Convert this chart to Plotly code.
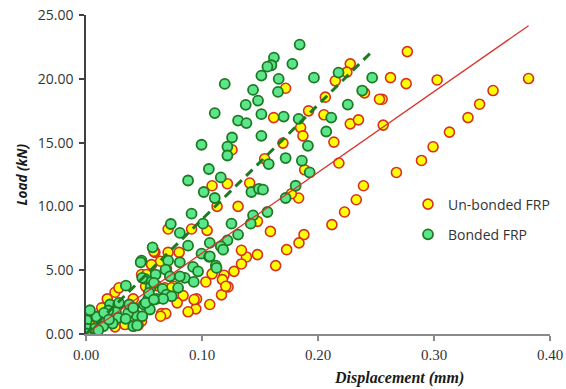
import plotly.graph_objects as go

# Un-bonded FRP (displacement mm, load kN)
unbonded_x = [0.277, 0.2625, 0.276, 0.3027, 0.3815, 0.2553, 0.2562, 0.3509, 0.3393, 0.3293,
              0.3133, 0.2992, 0.2892, 0.2676, 0.2392, 0.2401, 0.2330, 0.2229, 0.2120, 0.1879,
              0.1836, 0.1730, 0.1635, 0.1590, 0.1478, 0.1478, 0.1833, 0.1770, 0.1383, 0.1340,
              0.1340, 0.1311, 0.1276, 0.1225, 0.1190, 0.1176, 0.1168, 0.1087, 0.1033, 0.1067,
              0.0953, 0.0947, 0.0880, 0.0837, 0.1044, 0.0910, 0.1130, 0.1087, 0.1219, 0.1411,
              0.2278, 0.2249, 0.2149, 0.1721, 0.2063, 0.1919, 0.2051, 0.1618, 0.2278, 0.2349,
              0.2530, 0.1850, 0.1870, 0.1698, 0.2137, 0.1259, 0.1540, 0.2180, 0.1885, 0.0708,
              0.0594, 0.0565, 0.0708, 0.0803, 0.0479, 0.0522, 0.0694, 0.0932, 0.0680, 0.0757,
              0.0786, 0.0651, 0.0688, 0.0250, 0.0284, 0.0183, 0.0135, 0.0221, 0.0336, 0.0250,
              0.0407, 0.0430, 0.0479, 0.0450, 0.0034, 0.0086, 0.0114, 0.0407, 0.0536, 0.0608,
              0.1205, 0.0643, 0.0738, 0.0585, 0.0643, 0.0514, 0.0407]
unbonded_y = [22.13, 20.09, 19.62, 19.91, 20.02, 18.40, 16.37, 19.08, 18.01, 16.96,
              15.82, 14.67, 13.60, 12.66, 11.62, 18.90, 10.52, 9.56, 8.57, 7.79,
              7.14, 6.61, 5.36, 8.04, 6.22, 8.83, 10.66, 10.99, 6.04, 5.49,
              6.56, 10.00, 4.91, 3.69, 4.60, 4.26, 3.07, 4.71, 4.08, 2.31,
              2.75, 1.97, 1.74, 3.01, 8.12, 8.23, 10.00, 11.62, 11.78, 11.83,
              21.17, 20.52, 19.84, 19.26, 18.56, 17.49, 17.18, 16.96, 16.47, 16.78,
              18.40, 16.18, 15.53, 14.96, 15.04, 14.44, 13.73, 13.40, 12.87, 8.23,
              6.40, 5.44, 6.40, 6.40, 4.66, 4.66, 5.10, 2.70, 3.62, 3.74,
              2.44, 1.60, 1.60, 3.27, 3.62, 2.75, 2.05, 1.53, 0.74, 0.56,
              2.13, 1.13, 1.00, 0.69, 0.69, 0.35, 0.49, 2.75, 3.48, 3.79,
              3.74, 1.39, 3.62, 6.48, 5.70, 3.74, 1.39]

# Bonded FRP (displacement mm, load kN)
bonded_x = [0.1842, 0.1620, 0.1598, 0.1564, 0.1779, 0.1512, 0.1196, 0.1661, 0.1965, 0.2177,
            0.2467, 0.2381, 0.1440, 0.1655, 0.1483, 0.1377, 0.1110, 0.1512, 0.1704, 0.1311,
            0.1383, 0.1833, 0.2114, 0.2257, 0.2071, 0.1512, 0.1259, 0.1219, 0.1219, 0.0996,
            0.1913, 0.1721, 0.1861, 0.1928, 0.1575, 0.1059, 0.1162, 0.0880, 0.1015, 0.1426,
            0.1491, 0.1807, 0.1110, 0.1721, 0.1564, 0.1440, 0.1420, 0.1254, 0.1311, 0.1219,
            0.1162, 0.1182, 0.1067, 0.1009, 0.0910, 0.0809, 0.0880, 0.0996, 0.1061, 0.0923,
            0.0966, 0.1119, 0.1125, 0.0852, 0.0929, 0.1526, 0.0731, 0.0574, 0.0479, 0.0708,
            0.0809, 0.0686, 0.0723, 0.0809, 0.0508, 0.0565, 0.0557, 0.0344, 0.0660, 0.0794,
            0.0694, 0.0738, 0.0536, 0.0608, 0.0665, 0.0499, 0.0551, 0.0436, 0.0364, 0.0407,
            0.0207, 0.0278, 0.0373, 0.0258, 0.0278, 0.0230, 0.0192, 0.0092, 0.0034, 0.0006,
            0.0011, 0.0000, 0.0149, 0.0077, 0.0106, 0.0600, 0.0471, 0.0485, 0.0542, 0.0585,
            0.0514, 0.0585, 0.0485, 0.0441, 0.0342, 0.0155, 0.0284, 0.0198, 0.0407, 0.1067]
bonded_y = [22.68, 21.66, 21.06, 20.95, 21.17, 20.25, 19.60, 19.99, 20.09, 20.49,
            20.09, 19.08, 19.13, 18.97, 18.29, 17.96, 17.31, 17.23, 17.04, 16.73,
            16.53, 16.86, 16.96, 17.98, 15.87, 15.53, 15.40, 14.69, 13.99, 14.83,
            14.75, 13.79, 13.58, 12.66, 13.32, 12.93, 12.27, 12.03, 11.13, 11.13,
            11.38, 11.62, 10.66, 10.66, 9.56, 9.30, 8.65, 8.65, 7.79, 7.34,
            6.87, 6.61, 7.14, 8.65, 9.43, 7.92, 6.92, 6.30, 6.04, 5.26,
            4.91, 5.36, 5.18, 4.40, 4.08, 11.31, 8.62, 6.79, 5.75, 5.75,
            5.62, 5.05, 4.52, 4.52, 4.32, 4.11, 3.66, 3.79, 3.54, 3.62,
            3.09, 2.96, 2.75, 2.75, 2.75, 2.31, 1.92, 1.45, 1.66, 0.61,
            2.31, 2.31, 2.31, 1.71, 1.27, 0.82, 1.84, 1.35, 1.86, 1.06,
            0.41, 0.04, 0.61, 0.43, 0.30, 4.66, 5.62, 4.40, 3.22, 4.01,
            2.44, 2.70, 1.39, 0.67, 1.19, 1.66, 2.44, 1.13, 2.05, 6.09]

# Linear trend lines
unbonded_trend_x = [0.0, 0.3815]
unbonded_trend_y = [0.0, 24.16]
bonded_trend_x = [0.0, 0.245]
bonded_trend_y = [0.0, 22.0]

x_ticks = [0.0, 0.1, 0.2, 0.3, 0.4]
y_ticks = [0, 5, 10, 15, 20, 25]

YELLOW = "#FFFF00"
RED = "#D7301F"
GREEN_FILL = "#5CE68C"
GREEN_EDGE = "#1E7A22"

fig = go.Figure()
fig.add_trace(go.Scatter(
    x=unbonded_x, y=unbonded_y, mode="markers", name="Un-bonded FRP",
    legendgroup="a",
    marker=dict(size=10, color=YELLOW, line=dict(color=RED, width=1.6)),
))
fig.add_trace(go.Scatter(
    x=bonded_x, y=bonded_y, mode="markers", name="Bonded FRP",
    legendgroup="b",
    marker=dict(size=10, color=GREEN_FILL, line=dict(color=GREEN_EDGE, width=1.8)),
))
fig.add_trace(go.Scatter(
    x=unbonded_trend_x, y=unbonded_trend_y, mode="lines", showlegend=False,
    line=dict(color="#D9342B", width=1.3),
))
fig.add_trace(go.Scatter(
    x=bonded_trend_x, y=bonded_trend_y, mode="lines", showlegend=False,
    line=dict(color="#1E7A22", width=3, dash="9px,6px"),
))

fig.update_layout(
    width=566, height=389,
    margin=dict(l=86, r=15.7, t=15, b=54.5, autoexpand=False),
    paper_bgcolor="white", plot_bgcolor="white",
    showlegend=True,
    legend=dict(
        x=0.694, y=0.456, xanchor="left", yanchor="top",
        font=dict(family="Open Sans", size=14, color="#333333"),
        bgcolor="rgba(0,0,0,0)", tracegroupgap=9, itemwidth=30,
    ),
    xaxis=dict(
        range=[0, 0.4], tickvals=x_ticks, tickformat=".2f",
        showgrid=False, zeroline=False, showline=True,
        linecolor="#8A8A8A", linewidth=2,
        ticks="outside", ticklen=5, tickcolor="#8A8A8A", tickwidth=1.5,
        tickfont=dict(family="Liberation Serif", size=15, color="#333333"),
        ticklabelstandoff=1,
    ),
    yaxis=dict(
        range=[0, 25], tickvals=y_ticks, tickformat=".2f",
        showgrid=False, zeroline=False, showline=True,
        linecolor="#404040", linewidth=1.5,
        ticks="outside", ticklen=5, tickcolor="#404040", tickwidth=1.5,
        tickfont=dict(family="Open Sans", size=14, color="#333333"),
        ticklabelstandoff=3,
    ),
    annotations=[
        dict(text="<b><i>Displacement (mm)</i></b>", xref="paper", yref="paper",
             x=0.674, y=-0.139, xanchor="center", yanchor="middle", showarrow=False,
             font=dict(family="Liberation Serif", size=16, color="#1a1a1a")),
        dict(text="<b><i>Load (kN)</i></b>", xref="paper", yref="paper",
             x=-0.138, y=0.5, xanchor="center", yanchor="middle", showarrow=False,
             textangle=-90,
             font=dict(family="Open Sans", size=13.5, color="#1a1a1a")),
    ],
)

# remove the browser's default 8px body margin so the figure sits at the page origin
fig.write_html("out.html", config={"displayModeBar": False},
               post_script="document.body.style.margin='0px';")
